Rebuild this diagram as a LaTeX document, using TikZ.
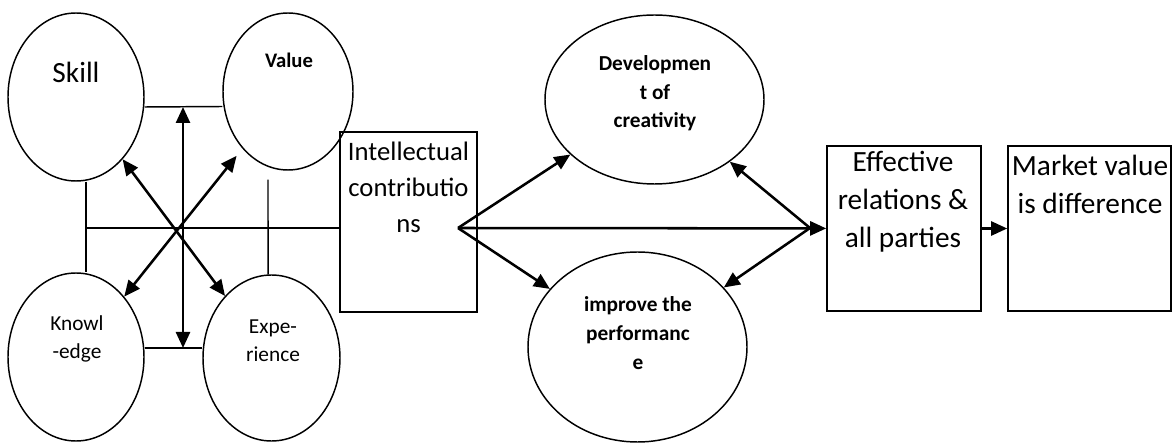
\documentclass[tikz,border=0pt]{standalone}
\usepackage{fontspec}
\setmainfont{Carlito}
\usetikzlibrary{arrows.meta,shapes.geometric}

\begin{document}
\begin{tikzpicture}[x=0.75pt,y=0.75pt,
	blob/.style={draw, ellipse, line width=1.1pt, inner sep=0pt},
	box/.style={draw, rectangle, line width=1.2pt, inner sep=0pt},
	link/.style={line width=1.1pt},
	arr/.style={line width=1.9pt, -{Triangle[length=12pt,width=10.5pt]}},
	arrs/.style={line width=1.9pt, {Triangle[length=12pt,width=10.5pt]}-{Triangle[length=12pt,width=10.5pt]}},
	big/.style={font=\fontsize{21}{28.5}\selectfont, align=center},
	small/.style={font=\fontsize{16}{21}\selectfont, align=center},
	bsmall/.style={font=\bfseries\fontsize{16}{21.5}\selectfont, align=center}]
\useasboundingbox (0,0) rectangle (1172,443);
%Ellipsen links
\node [blob, minimum width=102pt, minimum height=126pt] (skill) at (76,346) {};
\node [blob, minimum width=97.5pt, minimum height=117.75pt] (value) at (288,351.5) {};
\node [blob, minimum width=102pt, minimum height=126pt] (know) at (76,86) {};
\node [blob, minimum width=102.75pt, minimum height=124.5pt] (expe) at (271.5,85) {};
\node [big, font=\fontsize{22}{28.5}\selectfont] (skill-t) at (76,371) {Skill};
\node [font=\bfseries\fontsize{15.5}{20}\selectfont] (value-t) at (289,383) {Value};
\node [small] (know-t) at (77,104) {Knowl\\-edge};
\node [small] (expe-t) at (273,102) {Expe-\\rience};
%Kasten und Ellipsen rechts
\node [box, minimum width=102.75pt, minimum height=135pt] (intel) at (408.5,221) {};
\node [big, font=\fontsize{20}{27}\selectfont] (intel-t) at (408.5,256) {Intellectual\\contributio\\ns};
\node [blob, minimum width=164.25pt, minimum height=126.75pt] (dev) at (654.5,343.5) {};
\node [blob, minimum width=164.25pt, minimum height=142.5pt] (impr) at (637.5,96) {};
\node [bsmall] (dev-t) at (655,349.5) {Developmen\\t of\\creativity};
\node [bsmall] (impr-t) at (638,110) {improve the\\performanc\\e};
\node [box, minimum width=115.5pt, minimum height=123.75pt] (eff) at (904,214.5) {};
\node [box, minimum width=122.25pt, minimum height=123.75pt] (mkt) at (1089.5,214.5) {};
\node [big, font=\fontsize{22}{28.5}\selectfont] (eff-t) at (903,241) {Effective\\relations \&\\all parties};
\node [big, font=\fontsize{22}{28.5}\selectfont] (mkt-t) at (1090,259) {Market value\\is difference};
%Hilfspunkte
\coordinate (up) at (183,336);
\coordinate (dn) at (183,95);
\coordinate (src) at (458,215);
\coordinate (meet) at (810,215);
%Verbindungen links
\draw [link] ([yshift=-7.5pt]skill.east) -- ([yshift=-11.25pt]value.west);
\draw [link] ([yshift=6.75pt]know.east) -- ([yshift=7.5pt]expe.west);
\draw [link] ([xshift=7.5pt]skill.south) -- ([xshift=7.5pt]know.north);
\draw [link] ([xshift=-15pt,yshift=-6.75pt]value.south) -- ([xshift=-2.6pt]expe.north);
\draw [link] ([yshift=-4.5pt]intel.west) -| ([xshift=7.5pt]know.north);
\draw [arrs] (up) -- (dn);
\draw [arrs] (skill) -- (expe);
\draw [arrs, shorten <=7pt] (value) -- (know);
%Pfeile rechts
\draw [arr] (src) -- (dev);
\draw [arr] (src) -- (impr);
\draw [arr] (src) -- (eff);
\draw [arr] (meet) -- (dev);
\draw [arr] (meet) -- (impr);
\draw [arr] (eff) -- (mkt);

\end{tikzpicture}
\end{document}
